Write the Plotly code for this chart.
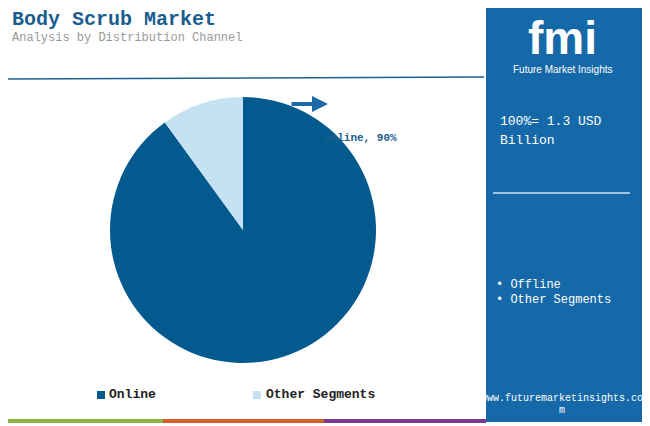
import plotly.graph_objects as go

labels = ["Online", "Other Segments"]
values = [90, 10]
colors = ["#035a8f", "#c5e2f2"]
side_items = ["Offline", "Other Segments"]

W, H = 650, 426
OFF = 8  # page body margin
def px(x): return (x - OFF) / W
def py(y): return 1 - (y - OFF) / H

fig = go.Figure(go.Pie(
    labels=labels, values=values, sort=False, direction="clockwise", rotation=0,
    marker=dict(colors=colors), textinfo="none", hoverinfo="label+percent",
    domain=dict(x=[px(110), px(376)], y=[py(363), py(97)]), showlegend=False,
))

mono = "Liberation Mono, Courier New, monospace"
shapes = [
    dict(type="rect", xref="paper", yref="paper", x0=px(486), x1=px(642), y0=py(422), y1=py(3),
         fillcolor="#1569a8", line_width=0, layer="below"),
    dict(type="line", xref="paper", yref="paper", x0=0, x1=px(484), y0=py(79), y1=py(77),
         line=dict(color="#1f5f8f", width=1.5)),
    dict(type="line", xref="paper", yref="paper", x0=px(493), x1=px(630), y0=py(193), y1=py(193),
         line=dict(color="#d0e4f2", width=1.5)),
    dict(type="line", xref="paper", yref="paper", x0=0, x1=px(163), y0=py(421), y1=py(421),
         line=dict(color="#8bb541", width=4)),
    dict(type="line", xref="paper", yref="paper", x0=px(163), x1=px(324), y0=py(421), y1=py(421),
         line=dict(color="#d5602a", width=4)),
    dict(type="line", xref="paper", yref="paper", x0=px(324), x1=px(486), y0=py(421), y1=py(421),
         line=dict(color="#7c3a8c", width=4)),
    dict(type="rect", xref="paper", yref="paper", x0=px(97), x1=px(105), y0=py(399), y1=py(391),
         fillcolor=colors[0], line_width=0),
    dict(type="rect", xref="paper", yref="paper", x0=px(253), x1=px(261), y0=py(399), y1=py(391),
         fillcolor=colors[1], line_width=0),
]

def ann(x, y, text, size, color, anchor="left", bold=False, family=mono):
    if bold:
        text = "<b>" + text + "</b>"
    return dict(xref="paper", yref="paper", x=px(x), y=py(y), text=text, showarrow=False,
                xanchor=anchor, yanchor="middle", font=dict(size=size, color=color, family=family))

annotations = [
    ann(10, 19, "Body Scrub Market", 20, "#1a5d8f", bold=True),
    ann(10, 38, "Analysis by Distribution Channel", 12, "#999999"),
    ann(322, 138, "Online, 90%", 11, "#1a5d8f", bold=True),
    ann(498, 122, "100%= 1.3 USD", 13, "white"),
    ann(498, 140, "Billion", 13, "white"),
    ann(494, 285, "• Offline", 12, "white"),
    ann(494, 300, "• Other Segments", 12, "white"),
    ann(107, 394, "Online", 13, "#222222", bold=True),
    ann(264, 394, "Other Segments", 13, "#222222", bold=True),
    ann(562, 398, "www.futuremarketinsights.co", 10, "white", anchor="center"),
    ann(562, 410, "m", 10, "white", anchor="center"),
    ann(562, 38, "<b>fmi</b>", 46, "white", anchor="center", family="Liberation Sans, Arial"),
    ann(562, 70, "Future Market Insights", 10, "white", anchor="center", family="Liberation Sans Narrow, Arial"),
    dict(xref="paper", yref="paper", x=px(328), y=py(104), ax=-38, ay=0,
         showarrow=True, arrowhead=2, arrowsize=0.8,
         arrowwidth=4, arrowcolor="#1a6aaa", text=""),
]

fig.update_layout(
    width=W, height=H, margin=dict(l=0, r=0, t=0, b=0),
    paper_bgcolor="white", plot_bgcolor="white",
    shapes=shapes, annotations=annotations,
)
fig.write_html("out.html")
